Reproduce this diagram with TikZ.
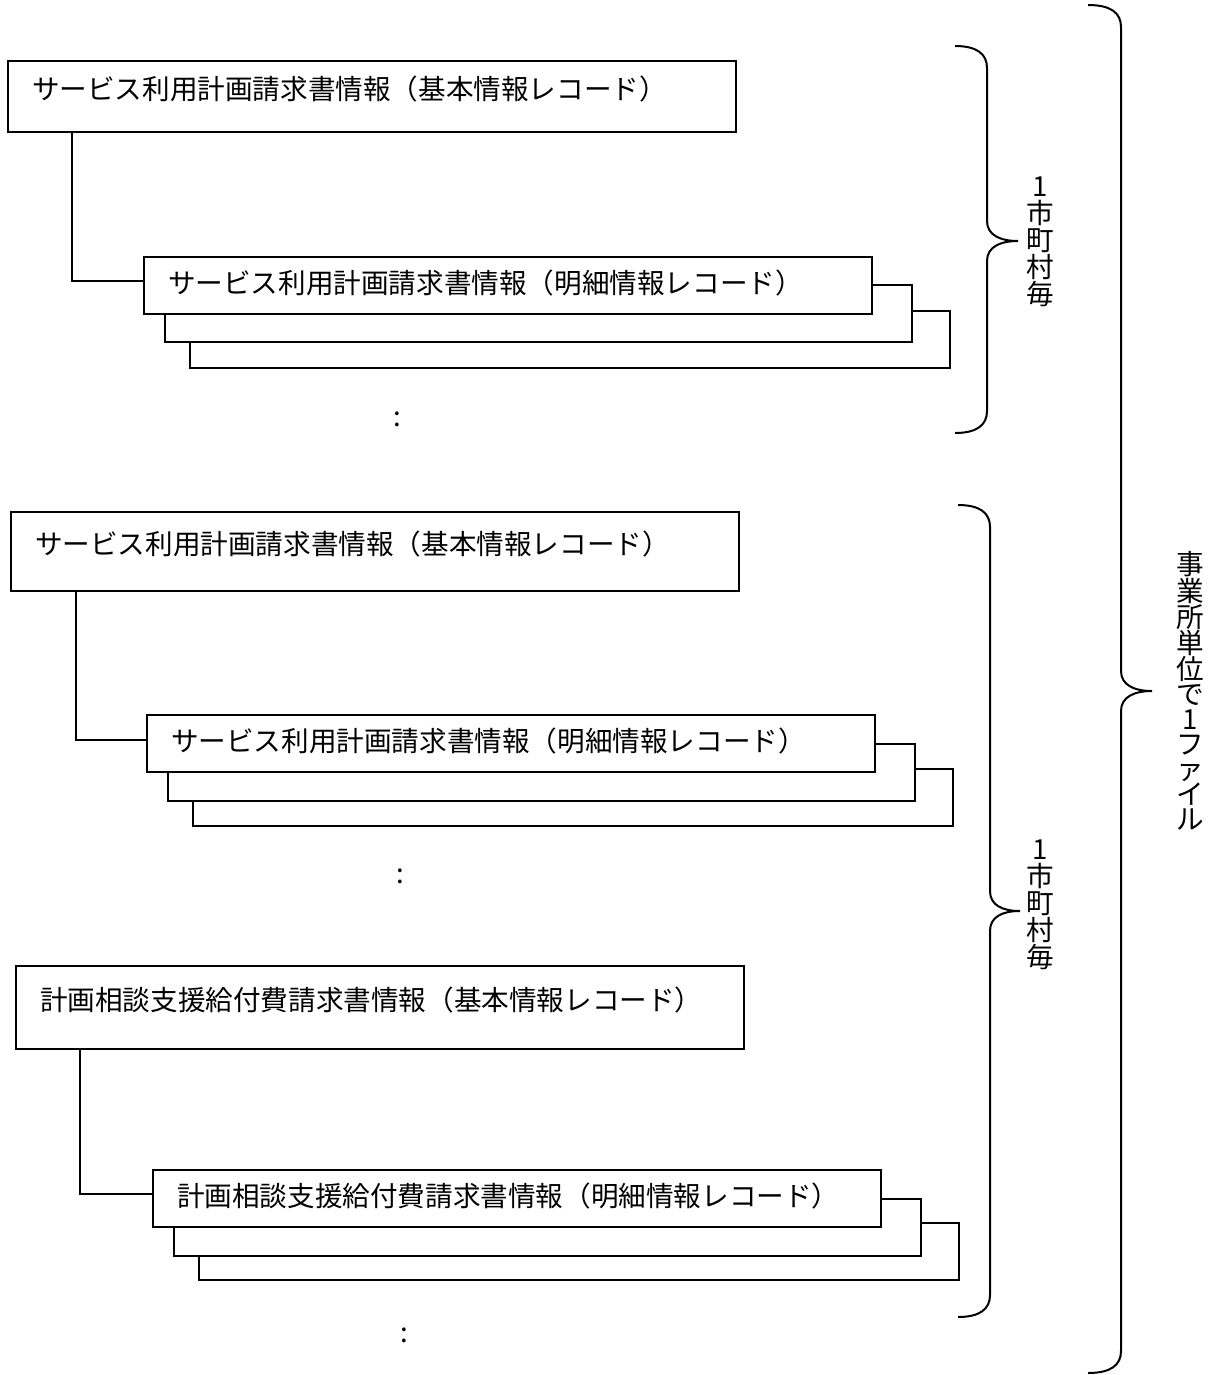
\documentclass[tikz,border=0pt]{standalone}
\usepackage{fontspec}
\usetikzlibrary{positioning}
\newfontfamily\jpfont{Noto Sans CJK JP}
% right curly brace: end x, line x, tip x, top y, tip y, bottom y
\newcommand{\curlybrace}[6]{%
  \draw[brc] (#1,#4) .. controls (#2-10,#4) and (#2,#4+8) .. (#2,#4+22)
    -- (#2,#5-20) .. controls (#2,#5-6) and (#3-18,#5) .. (#3,#5)
    .. controls (#3-18,#5) and (#2,#5+6) .. (#2,#5+20)
    -- (#2,#6-22) .. controls (#2,#6-8) and (#2-10,#6) .. (#1,#6);}

\begin{document}
\begin{tikzpicture}[x=1pt, y=-1pt,
  every node/.style={font=\jpfont\fontsize{27.6pt}{27pt}\selectfont},
  rec/.style={draw, fill=white, line width=2pt, anchor=north west,
    inner xsep=24pt, inner ysep=0pt, align=left},
  basebox/.style={rec, text width=680pt, text height=24pt, text depth=18pt},
  mainrec/.style={rec, text width=680pt, minimum height=57pt,
    text height=24pt, text depth=8pt},
  subrec/.style={rec, minimum width=747pt, minimum height=57pt},
  lastrec/.style={rec, minimum width=760pt, minimum height=57pt},
  link/.style={line width=2pt},
  brc/.style={line width=2pt},
  vlabel/.style={align=center}]
\useasboundingbox (0,0) rectangle (1218,1375);
% Group 1
\node[basebox, minimum height=71pt] (base1) at (7,60) {サービス利用計画請求書情報（基本情報レコード）};
\node[lastrec] (last1) at (189,310) {};
\node[subrec] (sub1) at (164,284) {};
\node[mainrec] (main1) at (143,256) {サービス利用計画請求書情報（明細情報レコード）};
\draw[link] ([xshift=65pt]base1.south west) |- ([yshift=5pt]main1.west);
\node (dots1) at (397,419) {:};
% Group 2
\node[basebox, minimum height=79pt] (base2) at (10,511) {サービス利用計画請求書情報（基本情報レコード）};
\node[lastrec] (last2) at (192,768) {};
\node[subrec] (sub2) at (167,743) {};
\node[mainrec] (main2) at (146,714) {サービス利用計画請求書情報（明細情報レコード）};
\draw[link] ([xshift=66pt]base2.south west) |- ([yshift=4pt]main2.west);
\node (dots2) at (400,876) {:};
% Group 3
\node[basebox, minimum height=83pt] (base3) at (15,965) {計画相談支援給付費請求書情報（基本情報レコード）};
\node[lastrec] (last3) at (198,1222) {};
\node[subrec] (sub3) at (173,1198) {};
\node[mainrec] (main3) at (152,1169) {計画相談支援給付費請求書情報（明細情報レコード）};
\draw[link] ([xshift=65pt]base3.south west) |- ([yshift=5pt]main3.west);
\node (dots3) at (404,1335) {:};
% Braces
\curlybrace{955}{987}{1018}{46}{241}{433}
\curlybrace{958}{990}{1020}{505}{911}{1317}
\curlybrace{1088}{1121}{1152}{5}{691}{1373}
\node[vlabel] (city1) at (1040,242) {1\\市\\町\\村\\毎};
\node[vlabel] (city2) at (1040,905) {1\\市\\町\\村\\毎};
\node[vlabel, font=\jpfont\fontsize{27.6pt}{25pt}\selectfont] (file) at (1190,691) {事\\業\\所\\単\\位\\で\\1\\フ\\ァ\\イ\\ル};
\end{tikzpicture}
\end{document}
